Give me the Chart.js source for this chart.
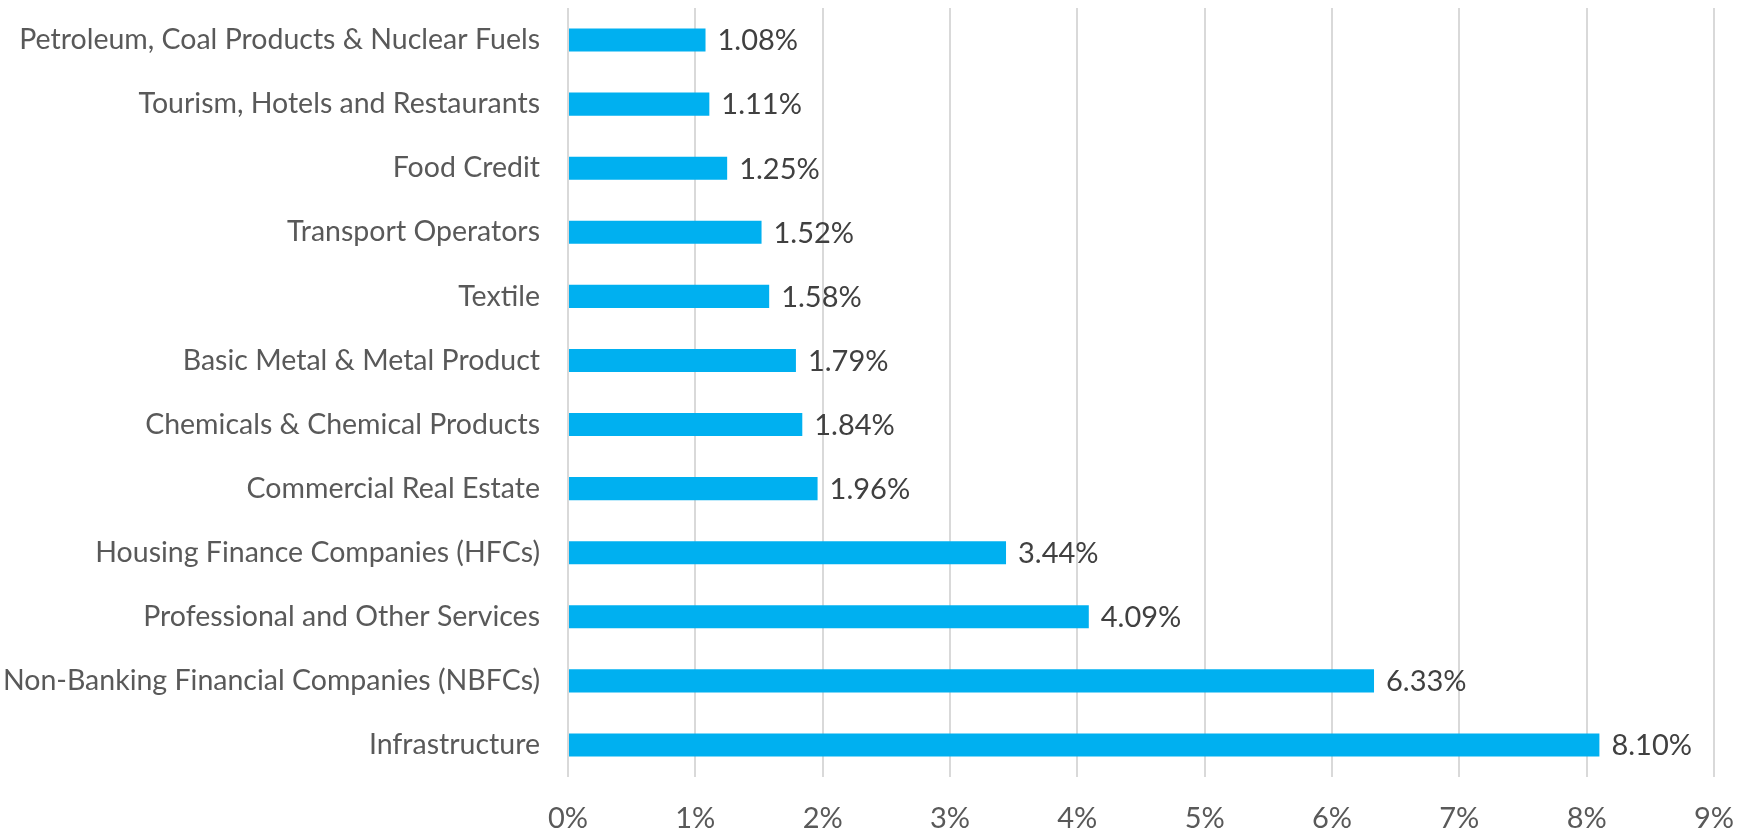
<!DOCTYPE html>
<html>
<head>
<meta charset="utf-8">
<script src="https://cdn.jsdelivr.net/npm/chart.js@4"></script>
<style>
  html, body { margin: 0; padding: 0; background: #ffffff; }
  #wrap { width: 1737px; height: 832px; }
</style>
</head>
<body>
<div id="wrap"><canvas id="chart" width="1737" height="832"></canvas></div>
<script>
// Sectors, listed top to bottom
const sectors = [
  'Petroleum, Coal Products & Nuclear Fuels',
  'Tourism, Hotels and Restaurants',
  'Food Credit',
  'Transport Operators',
  'Textile',
  'Basic Metal & Metal Product',
  'Chemicals & Chemical Products',
  'Commercial Real Estate',
  'Housing Finance Companies (HFCs)',
  'Professional and Other Services',
  'Non-Banking Financial Companies (NBFCs)',
  'Infrastructure'
];
// Share of exposure, percent
const shares = [1.08, 1.11, 1.25, 1.52, 1.58, 1.79, 1.84, 1.96, 3.44, 4.09, 6.33, 8.10];
// Horizontal axis ticks
const axisMax = 9;
const axisStep = 1;

const FONT = 'Lato, "Open Sans", sans-serif';

// Writes the value at the end of each bar
const valueLabels = {
  id: 'valueLabels',
  afterDatasetsDraw(chart) {
    const ctx = chart.ctx;
    const meta = chart.getDatasetMeta(0);
    ctx.save();
    ctx.font = '29px ' + FONT;
    ctx.fillStyle = '#404040';
    ctx.textAlign = 'left';
    ctx.textBaseline = 'middle';
    meta.data.forEach((bar, i) => {
      ctx.fillText(shares[i].toFixed(2) + '%', bar.x + 12, bar.y + 1);
    });
    ctx.restore();
  }
};

new Chart(document.getElementById('chart'), {
  type: 'bar',
  data: {
    labels: sectors,
    datasets: [{
      data: shares,
      backgroundColor: '#00B0F0',
      borderWidth: 0,
      barPercentage: 0.36,
      categoryPercentage: 1.0
    }]
  },
  options: {
    indexAxis: 'y',
    responsive: false,
    animation: false,
    devicePixelRatio: 1,
    layout: { padding: { top: 8, right: 23, left: 0, bottom: 0 } },
    plugins: {
      legend: { display: false },
      tooltip: { enabled: false }
    },
    scales: {
      x: {
        min: 0,
        max: axisMax,
        ticks: {
          stepSize: axisStep,
          padding: 24,
          color: '#595959',
          font: { family: FONT, size: 29 },
          callback: v => v + '%'
        },
        grid: { color: '#D9D9D9', lineWidth: 2, drawTicks: false },
        border: { display: false },
        afterFit(scale) {
          scale.height = 55;
          scale.paddingLeft = 0;
          scale.paddingRight = 0;
        }
      },
      y: {
        ticks: {
          padding: 28,
          color: '#595959',
          font: { family: FONT, size: 28.5 }
        },
        grid: { display: false, drawTicks: false },
        border: { display: false },
        afterFit(scale) {
          scale.width = 568;
          scale.paddingTop = 0;
          scale.paddingBottom = 0;
        }
      }
    }
  },
  plugins: [valueLabels]
});
</script>
</body>
</html>
